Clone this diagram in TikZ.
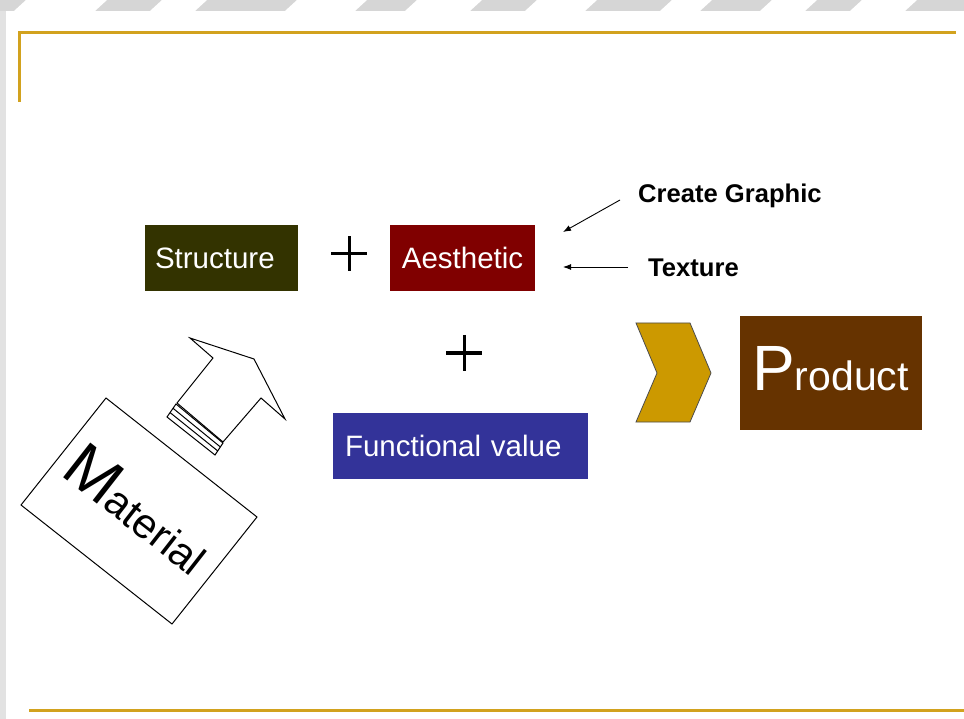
\documentclass[tikz,border=0pt]{standalone}
\usepackage{fontspec}
\setmainfont{Liberation Sans}
\usetikzlibrary{arrows.meta,calc}
\definecolor{olivebox}{HTML}{333300}
\definecolor{maroonbox}{HTML}{800000}
\definecolor{bluebox}{HTML}{333399}
\definecolor{brownbox}{HTML}{663300}
\definecolor{chev}{HTML}{CC9900}
\definecolor{goldline}{HTML}{D2A21E}
\definecolor{bggray}{HTML}{D6D6D6}
\tikzset{
  box/.style={fill=#1, draw=none, text=white, minimum height=66pt, inner ysep=0pt,
    font=\fontsize{29.5}{32}\selectfont},
  plusbar/.style={line width=3pt, black},
  thin/.style={line width=1pt, black},
  lbl/.style={font=\bfseries\fontsize{25.6}{28}\selectfont, inner sep=0pt, anchor=west},
  pointer/.style={line width=0.9pt, -{Latex[length=8pt,width=6pt]}},
  rule/.style={line width=3pt, goldline}
}
\begin{document}
\begin{tikzpicture}[x=1pt,y=-1pt]
\useasboundingbox (0,0) rectangle (964,719);
\fill[white] (0,0) rectangle (964,719);
% slide background texture
\fill[bggray] (0,0) rectangle (964,11);
\foreach \a/\b in {14/95, 150/195, 285/355, 405/470, 525/585, 660/700, 760/805, 850/905}{
  \fill[white] (\a,11) -- (\a+12,0) -- (\b+12,0) -- (\b,11) -- cycle;}
\fill[bggray!70] (0,11) rectangle (6,719);
\fill[white] (6,11) rectangle (964,719);
% gold rules
\draw[rule] (19,102) -- (19,33) -- (956,33);
\draw[rule] (29,710) -- (964,710);
% boxes
\node[box=olivebox, text width=133pt, inner xsep=10pt, align=left] (structure) at (221.5,258) {Structure};
\node[box=maroonbox, minimum width=145pt] (aesthetic) at (462.5,258) {Aesthetic};
\node[box=bluebox, text width=231pt, inner xsep=12pt, align=left] (functional) at (460.5,446) {Functional value};
\node[fill=brownbox, minimum width=182pt, minimum height=114pt] (product) at (831,373) {};
\node[anchor=base west, inner sep=0pt, text=white] (producttext) at (752,390)
  {{\fontsize{64}{64}\selectfont P}{\fontsize{41}{41}\selectfont roduct}};
% plus signs
\coordinate (p1) at (349,254);
\coordinate (p2) at (464,353);
\draw[plusbar] ([xshift=-18pt]p1) -- ([xshift=18pt]p1);
\draw[plusbar] ([yshift=17.5pt]p1) -- ([yshift=-17.5pt]p1);
\draw[plusbar] ([xshift=-18pt]p2) -- ([xshift=18pt]p2);
\draw[plusbar] ([yshift=18pt]p2) -- ([yshift=-18pt]p2);
% labels and pointers
\node[lbl] (create) at (638,196) {Create Graphic};
\node[lbl] (texture) at (648,268) {Texture};
\coordinate (cgs) at (620,200);
\coordinate (cge) at (563,232);
\coordinate (txs) at (628,267);
\coordinate (txe) at (563,267);
\draw[pointer] (cgs) -- (cge);
\draw[pointer] (txs) -- (txe);
% chevron
\draw[fill=chev, draw=black!70, line width=0.8pt]
  (636,323) -- (690,323) -- (711,373) -- (690,422) -- (636,422) -- (657,373) -- cycle;
% material box
\draw[thin, fill=white] (106,398) -- (257,517) -- (172,624) -- (21,505) -- cycle;
\node[anchor=base west, inner sep=0pt, rotate=-38] (material) at (59,474)
  {{\fontsize{64}{64}\selectfont M}{\fontsize{42}{42}\selectfont aterial}};
% block arrow
\draw[thin, line join=miter, fill=white]
  (213,358) -- (190,338) -- (254,359) -- (285,419) -- (261,398) -- (223,442) -- (177,403) -- cycle;
% stripes under arrow
\coordinate (s1) at (176,404);
\coordinate (s2) at (223,443);
\coordinate (s3) at (215,455);
\coordinate (s4) at (167,417);
\draw[thin] (s1) -- (s2) -- (s3) -- (s4) -- cycle;
\draw[thin] ($(s1)!0.33!(s4)$) -- ($(s2)!0.33!(s3)$);
\draw[thin] ($(s1)!0.66!(s4)$) -- ($(s2)!0.66!(s3)$);
\end{tikzpicture}
\end{document}
